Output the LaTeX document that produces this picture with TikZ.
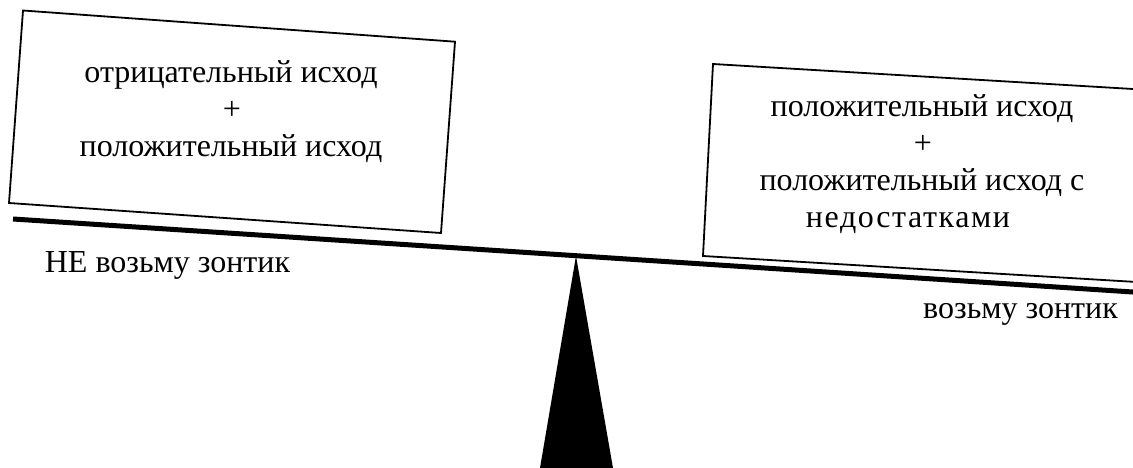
\documentclass[tikz,border=0pt]{standalone}
\usepackage{fontspec}
\setmainfont{Liberation Serif}
\tikzset{
  boxline/.style={line width=1.8pt, line join=miter},
  beamline/.style={line width=5pt},
  lbl/.style={font=\fontsize{32}{37}\selectfont, inner sep=0pt, anchor=base},
}
\begin{document}
\begin{tikzpicture}[x=1pt,y=-1pt]
\useasboundingbox (0,0) rectangle (1133,468);
\clip (0,0) rectangle (1133,468);
% left box
\coordinate (l1) at (23,10.5);
\coordinate (l2) at (455,41.7);
\coordinate (l3) at (441,233);
\coordinate (l4) at (9,203);
\draw[boxline] (l1) -- (l2) -- (l3) -- (l4) -- cycle;
\node[lbl] (lt1) at (231,83) {отрицательный исход};
\node[lbl] (lt2) at (232,120) {+};
\node[lbl] (lt3) at (231,157) {положительный исход};
% right box
\coordinate (r1) at (713,64);
\coordinate (r2) at (1200,93);
\coordinate (r3) at (1200,285.8);
\coordinate (r4) at (703,256);
\draw[boxline] (r2) -- (r1) -- (r4) -- (r3);
\node[lbl] (rt1) at (922,117) {положительный исход};
\node[lbl] (rt2) at (923,154) {+};
\node[lbl] (rt3) at (922,190) {положительный исход с};
\node[lbl] (rt4) at (908,227) {\addfontfeatures{LetterSpace=5}недостатками};
% beam
\coordinate (b1) at (13,219);
\coordinate (b2) at (1145,292.8);
\draw[beamline] (b1) -- (b2);
% fulcrum
\coordinate (apex) at (576,256);
\coordinate (bl) at (540,468);
\coordinate (br) at (613,468);
\fill (apex) -- (br) -- (bl) -- cycle;
% labels
\node[lbl] (ne) at (167.5,272) {НЕ возьму зонтик};
\node[lbl] (da) at (1020.5,318) {возьму зонтик};
\end{tikzpicture}
\end{document}
